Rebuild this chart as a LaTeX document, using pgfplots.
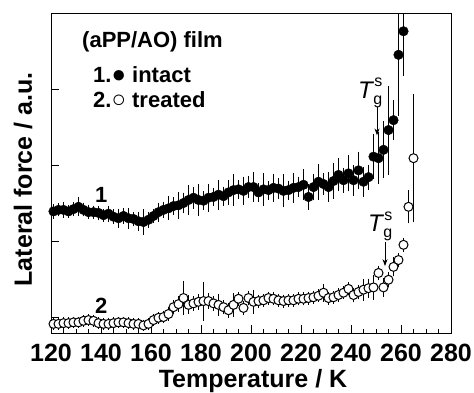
\documentclass[border=0pt]{standalone}
\usepackage{fontspec}
\setmainfont{Liberation Sans}
\usepackage{pgfplots}
\pgfplotsset{compat=1.18}
\usepackage{pgfplotstable}
\usetikzlibrary{arrows.meta}

\pgfplotstableread{
T y e
121 1.39 0.05
123 1.41 0.04
125 1.41 0.06
127 1.39 0.04
129 1.42 0.05
131 1.45 0.08
133 1.41 0.04
135 1.38 0.05
137 1.38 0.04
139 1.37 0.05
141 1.34 0.04
143 1.36 0.06
145 1.32 0.05
147 1.30 0.08
149 1.33 0.06
151 1.30 0.09
153 1.29 0.05
155 1.26 0.08
157 1.25 0.12
159 1.28 0.06
161 1.33 0.05
163 1.38 0.08
165 1.41 0.06
167 1.43 0.11
169 1.46 0.07
171 1.47 0.13
173 1.50 0.09
175 1.54 0.15
177 1.57 0.10
179 1.54 0.16
181 1.53 0.08
183 1.57 0.14
185 1.58 0.07
187 1.61 0.15
189 1.59 0.08
191 1.64 0.12
193 1.67 0.16
195 1.68 0.08
197 1.66 0.14
199 1.71 0.10
201 1.71 0.15
203 1.64 0.08
205 1.68 0.17
207 1.67 0.08
209 1.70 0.14
211 1.69 0.09
213 1.66 0.17
215 1.67 0.08
217 1.70 0.15
219 1.71 0.09
221 1.74 0.16
223 1.58 0.12
225 1.71 0.13
227 1.78 0.19
229 1.75 0.10
231 1.71 0.15
233 1.79 0.19
235 1.87 0.17
237 1.80 0.12
239 1.89 0.19
241 1.80 0.16
243 1.93 0.20
245 1.78 0.15
247 1.84 0.12
249 2.11 0.25
251 2.09 0.30
253 2.20 0.33
255 2.46 0.54
257 2.59 0.22
259 3.45 0.76
261 3.76 0.54
}\intact

\pgfplotstableread{
T y e
121 -0.09 0.03
123 -0.09 0.03
125 -0.08 0.03
127 -0.08 0.03
129 -0.07 0.03
131 -0.07 0.03
133 -0.05 0.03
135 -0.04 0.03
137 -0.05 0.03
139 -0.08 0.03
141 -0.09 0.03
143 -0.09 0.03
145 -0.08 0.03
147 -0.07 0.03
149 -0.07 0.03
151 -0.08 0.03
153 -0.09 0.03
155 -0.09 0.03
157 -0.11 0.03
159 -0.09 0.03
161 -0.04 0.03
163 -0.01 0.03
165 0.00 0.03
167 0.04 0.04
169 0.13 0.05
171 0.17 0.06
173 0.25 0.18
175 0.16 0.08
177 0.18 0.05
179 0.20 0.06
181 0.21 0.21
183 0.21 0.06
185 0.18 0.05
187 0.16 0.10
189 0.13 0.05
191 0.09 0.05
193 0.16 0.11
195 0.24 0.05
197 0.12 0.05
199 0.25 0.05
201 0.20 0.11
203 0.21 0.04
205 0.22 0.04
207 0.25 0.04
209 0.24 0.04
211 0.22 0.04
213 0.21 0.04
215 0.22 0.04
217 0.22 0.04
219 0.24 0.04
221 0.24 0.04
223 0.25 0.04
225 0.26 0.04
227 0.28 0.04
229 0.32 0.07
231 0.25 0.04
233 0.26 0.04
235 0.29 0.04
237 0.32 0.04
239 0.37 0.04
241 0.29 0.05
243 0.33 0.05
245 0.36 0.10
247 0.38 0.08
249 0.39 0.12
251 0.58 0.05
253 0.39 0.08
255 0.49 0.05
257 0.66 0.08
259 0.75 0.04
261 0.95 0.05
263 1.45 0.17
265 2.09 0.80
}\treated

\begin{document}
\begin{tikzpicture}
\begin{axis}[
  at={(0pt,0pt)}, anchor=south west,
  scale only axis, width=400pt, height=320pt,
  xmin=120, xmax=280, ymin=-0.21, ymax=4.0,
  xtick={120,140,...,280}, minor x tick num=3,
  ytick={0,1,2,3}, yticklabels={},
  tick align=inside, xtick pos=bottom, ytick pos=left,
  major tick length=8pt, minor tick length=4pt,
  axis line style={line width=0.9pt},
  every tick/.style={line width=0.9pt, black},
  /pgf/number format/assume math mode=true,
  xticklabel style={font=\fontsize{25}{25}\selectfont\bfseries, anchor=base, inner sep=0pt, yshift=-28pt},
  xlabel={Temperature / K}, ylabel={Lateral force / a.u.},
  label style={font=\fontsize{25}{25}\selectfont\bfseries, inner sep=0pt},
  xlabel style={at={(axis description cs:0.505,-0.16875)}, anchor=base},
  ylabel style={at={(axis description cs:-0.0475,0.48)}, anchor=base},
  clip=true,
]
\addplot[only marks, mark=*, mark size=4.8pt, mark options={fill=black, draw=black},
  error bars/.cd, y dir=both, y explicit, error mark=-,
  error mark options={black, mark size=3.5pt, line width=1pt},
  error bar style={line width=1pt, black}]
  table[x=T, y=y, y error=e] {\intact};
\addplot[only marks, mark=*, mark size=4.5pt, mark options={fill=white, draw=black, line width=1pt},
  error bars/.cd, y dir=both, y explicit, error mark=-,
  error mark options={black, mark size=3.5pt, line width=1pt},
  error bar style={line width=1pt, black}]
  table[x=T, y=y, y error=e] {\treated};

\node[anchor=base west, inner sep=0pt, font=\fontsize{22}{22}\selectfont\bfseries] at (axis cs:132.4,3.54) {(aPP/AO) film};
\node[anchor=base west, inner sep=0pt, font=\fontsize{22}{22}\selectfont\bfseries] at (axis cs:136.8,3.08) {1.{\fontsize{24}{24}\selectfont ●} intact};
\node[anchor=base west, inner sep=0pt, font=\fontsize{22}{22}\selectfont\bfseries] at (axis cs:136.8,2.76) {2.{\fontsize{24}{24}\selectfont ○} treated};
\node[anchor=base west, inner sep=0pt, font=\fontsize{22}{22}\selectfont\bfseries] at (axis cs:137.6,1.51) {1};
\node[anchor=base west, inner sep=0pt, font=\fontsize{22}{22}\selectfont\bfseries] at (axis cs:137.6,0.05) {2};

\node[anchor=base west, inner sep=0pt, font=\fontsize{24}{24}\selectfont] at (axis cs:242.8,2.88)
  {\textit{T}\kern-1pt\rlap{\raisebox{-6pt}{\fontsize{16}{16}\selectfont g}}\raisebox{11.5pt}{\fontsize{16}{16}\selectfont\kern1pt s}};
\draw[-{Stealth[length=7pt,width=5pt]}, line width=0.8pt] (axis cs:250.4,2.76) -- (axis cs:250.4,2.39);

\node[anchor=base west, inner sep=0pt, font=\fontsize{24}{24}\selectfont] at (axis cs:246.8,1.12)
  {\textit{T}\kern-1pt\rlap{\raisebox{-6pt}{\fontsize{16}{16}\selectfont g}}\raisebox{11.5pt}{\fontsize{16}{16}\selectfont\kern1pt s}};
\draw[-{Stealth[length=7pt,width=5pt]}, line width=0.8pt] (axis cs:253.6,0.99) -- (axis cs:253.6,0.67);
\end{axis}
\pgfresetboundingbox
\path (-51pt,-59pt) rectangle (423pt,333pt);
\end{tikzpicture}
\end{document}
